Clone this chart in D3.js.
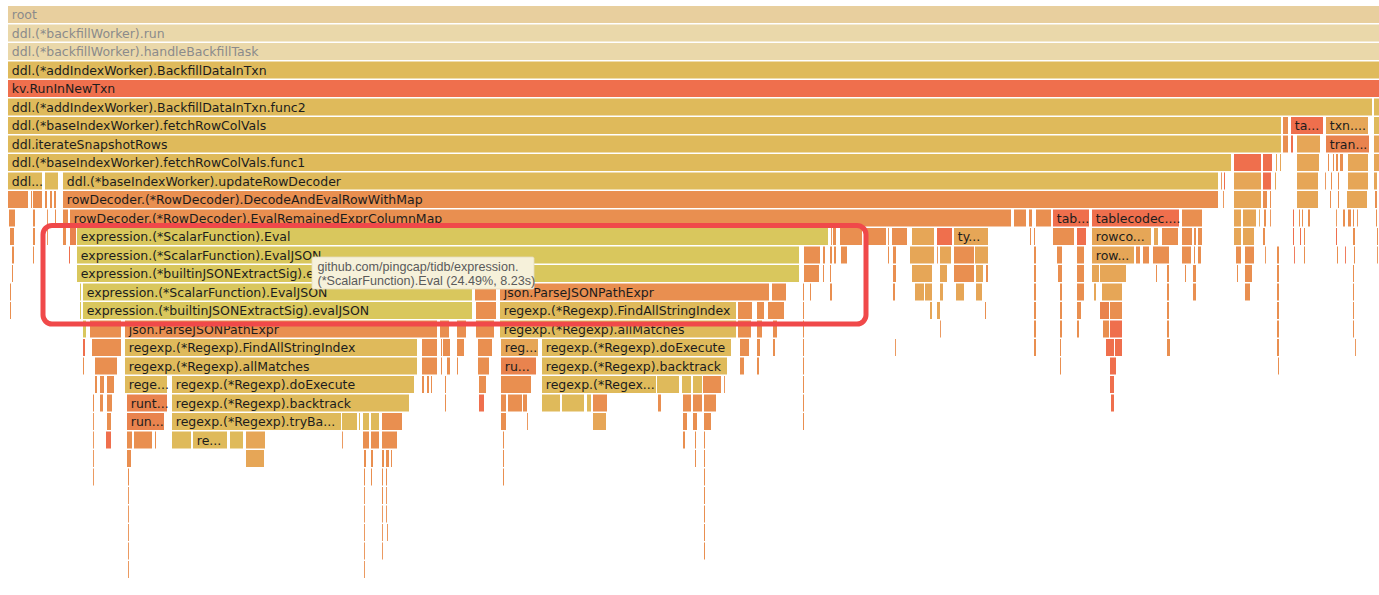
<!DOCTYPE html>
<html>
<head>
<meta charset="utf-8">
<script src="https://cdn.jsdelivr.net/npm/d3@7"></script>
<style>
  html, body { margin: 0; padding: 0; background: #ffffff; overflow: hidden; }
  svg { display: block; }
</style>
</head>
<body>
<svg id="chart" width="1379" height="595"></svg>
<script>
// ---- DATA (flame graph zoomed on ddl.(*addIndexWorker).BackfillDataInTxn) ----
// samples of the zoomed frame (full width)
const totalSamples = 1377;

// labelled frames: [depth, startSample, samples, tone, visible label]
const labeledFrames = [
  [0, 0, 1377, "f0", "root"],
  [1, 0, 1377, "f1", "ddl.(*backfillWorker).run"],
  [2, 0, 1377, "f1", "ddl.(*backfillWorker).handleBackfillTask"],
  [3, 0, 1377, "y", "ddl.(*addIndexWorker).BackfillDataInTxn"],
  [4, 0, 1377, "r", "kv.RunInNewTxn"],
  [5, 0, 1365, "y", "ddl.(*addIndexWorker).BackfillDataInTxn.func2"],
  [6, 0, 1274, "y", "ddl.(*baseIndexWorker).fetchRowColVals"],
  [6, 1283, 33, "r", "ta..."],
  [6, 1318, 43, "l", "txn...."],
  [7, 0, 1274, "y", "ddl.iterateSnapshotRows"],
  [7, 1318, 44, "m", "tran..."],
  [8, 0, 1224, "y", "ddl.(*baseIndexWorker).fetchRowColVals.func1"],
  [9, 0, 35, "y", "ddl..."],
  [9, 55, 1156, "y", "ddl.(*baseIndexWorker).updateRowDecoder"],
  [10, 55, 1156, "o", "rowDecoder.(*RowDecoder).DecodeAndEvalRowWithMap"],
  [11, 62, 942, "o", "rowDecoder.(*RowDecoder).EvalRemainedExprColumnMap"],
  [11, 1045, 37, "r", "tab..."],
  [11, 1084, 88, "r", "tablecodec...."],
  [12, 69, 752, "g", "expression.(*ScalarFunction).Eval"],
  [12, 946, 35, "l", "ty..."],
  [12, 1084, 60, "l", "rowco..."],
  [13, 69, 723, "g", "expression.(*ScalarFunction).EvalJSON"],
  [13, 1084, 43, "l", "row..."],
  [14, 69, 723, "g", "expression.(*builtinJSONExtractSig).e"],
  [15, 75, 390, "g", "expression.(*ScalarFunction).EvalJSON"],
  [15, 492, 270, "o", "json.ParseJSONPathExpr"],
  [16, 75, 390, "g", "expression.(*builtinJSONExtractSig).evalJSON"],
  [16, 492, 237, "y", "regexp.(*Regexp).FindAllStringIndex"],
  [17, 117, 313, "o", "json.ParseJSONPathExpr"],
  [17, 492, 237, "y", "regexp.(*Regexp).allMatches"],
  [18, 117, 293, "y", "regexp.(*Regexp).FindAllStringIndex"],
  [18, 493, 38, "l", "reg..."],
  [18, 534, 190, "y", "regexp.(*Regexp).doExecute"],
  [19, 117, 293, "y", "regexp.(*Regexp).allMatches"],
  [19, 493, 36, "m", "ru..."],
  [19, 534, 186, "y", "regexp.(*Regexp).backtrack"],
  [20, 117, 43, "y", "rege..."],
  [20, 164, 243, "y", "regexp.(*Regexp).doExecute"],
  [20, 534, 115, "y", "regexp.(*Regex..."],
  [21, 119, 41, "m", "runt..."],
  [21, 164, 238, "y", "regexp.(*Regexp).backtrack"],
  [22, 119, 38, "m", "run..."],
  [22, 164, 170, "y", "regexp.(*Regexp).tryBa..."],
  [23, 185, 35, "y", "re..."]
];

// small frames too narrow for a label: [depth, startSample, samples, tone]
const sliverFrames = [
  [5,1366,11,"y"],
  [6,1275,6,"o"],[6,1366,11,"y"],
  [7,1275,6,"o"],[7,1283,3,"r"],[7,1289,24,"l"],[7,1366,8,"l"],
  [8,1226,28,"r"],[8,1255,10,"r"],[8,1268,2,"l"],[8,1272,2,"l"],[8,1289,23,"l"],[8,1320,2,"o"],[8,1325,2,"o"],[8,1328,3,"o"],[8,1332,4,"o"],[8,1340,21,"l"],[8,1366,6,"l"],
  [9,37,14,"y"],[9,1213,1,"o"],[9,1216,2,"r"],[9,1226,28,"l"],[9,1255,9,"r"],[9,1267,2,"l"],[9,1289,22,"l"],[9,1317,1,"o"],[9,1323,2,"o"],[9,1330,2,"o"],[9,1340,21,"l"],[9,1366,4,"l"],
  [10,0,21,"o"],[10,23,2,"o"],[10,25,10,"o"],[10,37,3,"o"],[10,42,3,"o"],[10,46,3,"o"],[10,1215,1,"o"],[10,1226,28,"l"],[10,1255,5,"o"],[10,1262,2,"o"],[10,1289,22,"l"],[10,1322,2,"o"],[10,1330,2,"o"],[10,1339,21,"l"],[10,1367,3,"o"],
  [11,1,7,"o"],[11,25,3,"o"],[11,39,1,"o"],[11,47,2,"o"],[11,55,6,"o"],[11,1006,13,"o"],[11,1021,4,"o"],[11,1028,16,"o"],[11,1174,21,"o"],[11,1226,8,"l"],[11,1235,14,"l"],[11,1251,1,"l"],[11,1256,3,"o"],[11,1262,1,"o"],[11,1285,2,"r"],[11,1291,2,"o"],[11,1294,2,"o"],[11,1300,3,"o"],[11,1328,1,"o"],[11,1335,3,"o"],[11,1340,4,"o"],[11,1345,2,"o"],[11,1349,1,"o"],[11,1368,2,"o"],
  [12,2,5,"o"],[12,25,3,"o"],[12,39,1,"o"],[12,55,4,"o"],[12,62,7,"m"],[12,823,1,"o"],[12,825,4,"o"],[12,832,23,"o"],[12,857,22,"o"],[12,880,1,"o"],[12,884,16,"o"],[12,904,23,"l"],[12,929,16,"r"],[12,1022,2,"o"],[12,1026,2,"o"],[12,1045,22,"o"],[12,1069,10,"r"],[12,1146,5,"l"],[12,1154,17,"o"],[12,1174,11,"o"],[12,1186,3,"o"],[12,1190,5,"o"],[12,1226,8,"l"],[12,1235,12,"l"],[12,1255,3,"o"],[12,1285,2,"r"],[12,1292,2,"r"],[12,1296,2,"o"],[12,1328,2,"r"],[12,1345,3,"o"],[12,1369,2,"o"],
  [13,4,3,"o"],[13,25,2,"o"],[13,61,2,"r"],[13,796,17,"o"],[13,815,3,"o"],[13,822,3,"o"],[13,826,3,"o"],[13,833,7,"o"],[13,880,2,"o"],[13,885,4,"o"],[13,902,25,"l"],[13,929,1,"o"],[13,932,12,"l"],[13,946,21,"o"],[13,967,14,"l"],[13,1026,3,"o"],[13,1049,6,"o"],[13,1069,8,"o"],[13,1128,5,"o"],[13,1135,7,"o"],[13,1145,17,"o"],[13,1174,10,"o"],[13,1186,2,"o"],[13,1190,4,"o"],[13,1228,6,"o"],[13,1237,10,"o"],[13,1257,1,"o"],[13,1269,3,"o"],[13,1286,1,"r"],[13,1296,2,"o"],[13,1329,2,"o"],[13,1337,1,"r"],[13,1346,2,"o"],[13,1369,1,"o"],
  [14,4,2,"o"],[14,796,16,"o"],[14,815,2,"o"],[14,822,2,"o"],[14,885,4,"o"],[14,904,21,"l"],[14,932,8,"l"],[14,946,21,"o"],[14,968,8,"l"],[14,978,3,"o"],[14,1026,3,"o"],[14,1050,5,"o"],[14,1069,8,"o"],[14,1084,8,"l"],[14,1092,27,"l"],[14,1148,2,"o"],[14,1159,3,"o"],[14,1177,2,"o"],[14,1185,4,"o"],[14,1229,2,"o"],[14,1237,8,"o"],[14,1269,3,"o"],[14,1345,2,"o"],
  [15,2,2,"o"],[15,72,2,"g"],[15,467,22,"o"],[15,764,15,"o"],[15,795,2,"o"],[15,802,2,"o"],[15,822,3,"o"],[15,885,3,"o"],[15,907,10,"l"],[15,917,8,"l"],[15,932,4,"l"],[15,948,9,"l"],[15,968,7,"l"],[15,1026,3,"o"],[15,1052,3,"o"],[15,1069,8,"o"],[15,1086,3,"l"],[15,1094,21,"l"],[15,1159,3,"o"],[15,1185,4,"o"],[15,1237,6,"o"],[15,1269,3,"o"],[15,1345,2,"o"],
  [16,2,2,"o"],[16,72,2,"g"],[16,468,21,"o"],[16,730,15,"o"],[16,749,8,"o"],[16,760,17,"o"],[16,795,2,"o"],[16,922,3,"l"],[16,929,4,"l"],[16,977,2,"o"],[16,1026,3,"o"],[16,1052,3,"o"],[16,1069,5,"o"],[16,1092,10,"m"],[16,1102,13,"o"],[16,1159,3,"o"],[16,1269,3,"o"],[16,1345,2,"o"],
  [17,75,4,"g"],[17,82,32,"o"],[17,432,10,"o"],[17,449,10,"o"],[17,468,19,"o"],[17,730,14,"o"],[17,749,6,"o"],[17,765,5,"o"],[17,795,2,"o"],[17,932,1,"o"],[17,1026,3,"o"],[17,1052,3,"o"],[17,1069,3,"o"],[17,1095,7,"o"],[17,1102,13,"r"],[17,1159,3,"o"],[17,1269,3,"o"],[17,1345,2,"o"],
  [18,75,3,"r"],[18,84,30,"o"],[18,414,16,"o"],[18,433,2,"o"],[18,435,8,"o"],[18,449,8,"o"],[18,470,15,"o"],[18,732,10,"o"],[18,749,4,"o"],[18,765,3,"o"],[18,795,2,"o"],[18,887,1,"o"],[18,1026,3,"o"],[18,1052,2,"o"],[18,1098,9,"r"],[18,1107,8,"r"],[18,1159,4,"o"],[18,1269,3,"o"],[18,1347,1,"o"],
  [19,75,2,"o"],[19,87,23,"o"],[19,414,16,"o"],[19,433,2,"o"],[19,439,4,"o"],[19,449,2,"o"],[19,470,12,"o"],[19,732,5,"o"],[19,749,3,"o"],[19,795,2,"o"],[19,1052,2,"o"],[19,1102,7,"r"],[19,1270,2,"o"],
  [20,87,3,"o"],[20,92,5,"o"],[20,99,8,"o"],[20,414,3,"o"],[20,419,3,"o"],[20,423,2,"o"],[20,437,2,"o"],[20,471,8,"o"],[20,493,31,"o"],[20,649,23,"y"],[20,674,10,"y"],[20,685,10,"y"],[20,695,19,"o"],[20,716,1,"o"],[20,795,2,"o"],[20,1102,5,"r"],
  [21,85,2,"o"],[21,92,4,"o"],[21,99,6,"o"],[21,437,2,"o"],[21,471,6,"r"],[21,493,6,"o"],[21,500,15,"o"],[21,515,5,"o"],[21,534,19,"y"],[21,554,23,"y"],[21,579,5,"y"],[21,585,15,"o"],[21,650,4,"o"],[21,675,9,"o"],[21,685,10,"o"],[21,696,13,"o"],[21,795,2,"o"],[21,1103,4,"r"],
  [22,85,1,"o"],[22,99,5,"o"],[22,334,16,"y"],[22,351,2,"y"],[22,355,7,"y"],[22,363,9,"y"],[22,374,21,"o"],[22,493,6,"o"],[22,519,1,"o"],[22,585,14,"l"],[22,675,5,"o"],[22,685,5,"o"],[22,696,8,"o"],[22,795,2,"o"],
  [23,85,1,"o"],[23,98,6,"r"],[23,119,6,"o"],[23,126,19,"o"],[23,147,2,"o"],[23,164,20,"y"],[23,222,14,"y"],[23,238,20,"l"],[23,334,1,"o"],[23,355,7,"o"],[23,363,9,"o"],[23,374,16,"o"],[23,495,2,"o"],[23,675,3,"o"],[23,687,2,"o"],[23,696,2,"o"],
  [24,85,1,"o"],[24,119,5,"o"],[24,238,19,"l"],[24,356,3,"o"],[24,363,3,"o"],[24,374,3,"o"],[24,378,4,"o"],[24,383,2,"o"],[24,495,2,"o"],[24,687,2,"o"],[24,696,2,"o"],
  [25,85,1,"o"],[25,120,2,"o"],[25,356,2,"o"],[25,363,2,"o"],[25,374,2,"o"],[25,378,2,"o"],[25,495,2,"o"],[25,696,2,"o"],
  [26,120,1,"o"],[26,356,1,"o"],[26,374,2,"o"],[26,378,1,"o"],[26,696,2,"o"],
  [27,120,1,"o"],[27,356,1,"o"],[27,374,1,"o"],[27,378,1,"o"],[27,696,2,"o"],
  [28,120,1,"o"],[28,356,1,"o"],[28,374,1,"o"],[28,379,1,"o"],[28,696,2,"o"],
  [29,120,1,"o"],[29,356,1,"o"],[29,374,1,"o"],[29,696,2,"o"],
  [30,120,1,"o"],[30,356,1,"o"]
];

const tooltipLines = [
  "github.com/pingcap/tidb/expression.",
  "(*ScalarFunction).Eval (24.49%, 8.23s)"
];
const highlightedDepths = [12, 16];        // rows framed by the red annotation
const highlightedSamples = [34, 858];      // sample range framed by the annotation

const toneKeys = ["f0", "f1", "y", "g", "r", "o", "l", "m"];
const toneFills = ["#E8CF9E", "#EAD8AA", "#DFBA5B", "#D9C75D", "#EF6F4D", "#E98F50", "#E6A657", "#E9834E"];

// ---- RENDER ----
const svg = d3.select("#chart");
const maxDepth = 31;
const rowPitch = 18.5;
const x = d3.scaleLinear().domain([0, totalSamples]).range([8, 1385]);
const y = d3.scaleLinear().domain([0, maxDepth]).range([6, 6 + maxDepth * rowPitch]);
const color = d3.scaleOrdinal().domain(toneKeys).range(toneFills);
const barH = 17;

const toFrame = a => ({depth: a[0], start: a[1], samples: a[2], tone: a[3], label: a[4] || null});
const frames = sliverFrames.map(toFrame).concat(labeledFrames.map(toFrame));

const g = svg.append("g");
g.selectAll("rect.frame")
  .data(frames)
  .join("rect")
  .attr("class", "frame")
  .attr("x", d => x(d.start))
  .attr("y", d => y(d.depth))
  .attr("width", d => Math.max(0.9, x(d.start + d.samples) - x(d.start) - 1))
  .attr("height", barH)
  .attr("fill", d => color(d.tone));

g.selectAll("text.label")
  .data(frames.filter(d => d.label))
  .join("text")
  .attr("class", "label")
  .attr("x", d => x(d.start) + 3.8)
  .attr("y", d => y(d.depth) + 13.4)
  .attr("font-family", "'DejaVu Sans', Verdana, sans-serif")
  .attr("font-size", 12.5)
  .attr("fill", d => (d.tone === "f0" || d.tone === "f1") ? "#8b8b8b" : "#1c1c1c")
  .text(d => d.label);

// red annotation box
const bx0 = x(highlightedSamples[0]) + 1, bx1 = x(highlightedSamples[1]);
const by0 = y(highlightedDepths[0]) - 2.5, by1 = y(highlightedDepths[1] + 1) + 3.5;
svg.append("rect")
  .attr("x", bx0).attr("y", by0)
  .attr("width", bx1 - bx0).attr("height", by1 - by0)
  .attr("rx", 9).attr("ry", 9)
  .attr("fill", "none")
  .attr("stroke", "#F0494A")
  .attr("stroke-width", 5);

// tooltip
const tip = svg.append("g").attr("transform", "translate(312,257)");
tip.append("rect")
  .attr("width", 222).attr("height", 32)
  .attr("fill", "#F6F1DA")
  .attr("stroke", "#E4DCC0")
  .attr("stroke-width", 0.8)
  .attr("rx", 1.5);
tip.selectAll("text")
  .data(tooltipLines)
  .join("text")
  .attr("x", 5.5)
  .attr("y", (d, i) => 13.5 + i * 14)
  .attr("font-family", "'Liberation Sans', Arial, sans-serif")
  .attr("font-size", 12.6)
  .attr("fill", "#5a5a5a")
  .text(d => d);
</script>
</body>
</html>
